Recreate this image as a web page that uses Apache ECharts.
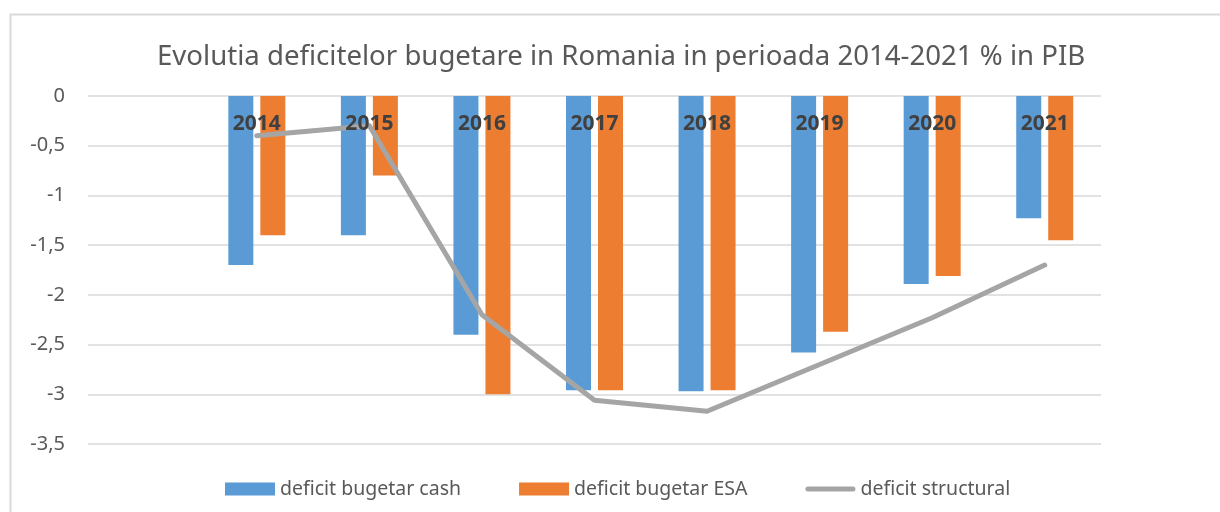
<!DOCTYPE html>
<html>
<head>
<meta charset="utf-8">
<script src="https://cdn.jsdelivr.net/npm/echarts@6/dist/echarts.min.js"></script>
<style>
  html, body { margin: 0; padding: 0; background: #fff; }
  #chart { width: 1220px; height: 512px; }
</style>
</head>
<body>
<div id="chart"></div>
<script>
// first slot is empty, like in the original Excel chart
const years = ['', '2014', '2015', '2016', '2017', '2018', '2019', '2020', '2021'];
const cashDeficit = ['-', -1.7, -1.4, -2.4, -2.96, -2.97, -2.58, -1.89, -1.23];
const esaDeficit = ['-', -1.4, -0.8, -3.0, -2.96, -2.96, -2.37, -1.81, -1.45];
const structuralDeficit = ['-', -0.4, -0.3, -2.2, -3.06, -3.17, -2.7, -2.23, -1.7];

const fontName = 'Noto Sans';
const textColor = '#595959';

let chart = echarts.init(document.getElementById('chart'), null, { renderer: 'canvas' });

let option = {
  backgroundColor: '#ffffff',
  animation: false,
  color: ['#5b9bd5', '#ed7d31', '#a5a5a5'],
  textStyle: { fontFamily: fontName },
  graphic: [{
    type: 'rect',
    shape: { x: 10.5, y: 14.5, width: 1230, height: 520 },
    style: { fill: 'none', stroke: '#d9d9d9', lineWidth: 2 },
    silent: true
  }],
  title: {
    text: 'Evolutia deficitelor bugetare in Romania in perioada 2014-2021 % in PIB',
    left: 152,
    top: 38,
    textStyle: {
      color: textColor,
      fontSize: 27.6,
      fontWeight: 'normal',
      fontFamily: fontName
    }
  },
  legend: {
    bottom: 8,
    left: 220,
    itemWidth: 50,
    itemHeight: 13,
    itemGap: 58,
    textStyle: { color: textColor, fontSize: 19.5, fontFamily: fontName },
    data: [
      { name: 'deficit bugetar cash', icon: 'rect' },
      { name: 'deficit bugetar ESA', icon: 'rect' },
      {
        name: 'deficit structural',
        icon: 'path://M2.5,0 H47.5 A2.5,2.5 0 0 1 47.5,5 H2.5 A2.5,2.5 0 0 1 2.5,0 Z',
        itemStyle: { color: '#a5a5a5' }
      }
    ]
  },
  grid: {
    left: 88,
    right: 119,
    top: 96,
    bottom: 68,
    containLabel: false
  },
  xAxis: {
    type: 'category',
    position: 'top',
    data: years,
    z: 10,
    axisLine: { show: false },
    axisTick: { show: false },
    splitLine: { show: false },
    axisLabel: {
      inside: true,
      margin: 18,
      color: '#404040',
      fontSize: 21,
      fontWeight: 'bold',
      fontFamily: fontName
    }
  },
  yAxis: {
    type: 'value',
    min: -3.5,
    max: 0,
    interval: 0.5,
    axisLine: { show: false },
    axisTick: { show: false },
    splitLine: { lineStyle: { color: '#d9d9d9', width: 1.5 } },
    axisLabel: {
      color: textColor,
      fontSize: 20,
      margin: 23,
      fontFamily: fontName,
      formatter: function (v) {
        return String(v).replace('.', ',');
      }
    }
  },
  series: [{
    name: 'deficit bugetar cash',
    type: 'bar',
    barWidth: 25,
    barGap: '28%',
    data: cashDeficit
  }, {
    name: 'deficit bugetar ESA',
    type: 'bar',
    barWidth: 25,
    barGap: '28%',
    data: esaDeficit
  }, {
    name: 'deficit structural',
    type: 'line',
    symbol: 'none',
    z: 5,
    lineStyle: { width: 5, color: '#a5a5a5', cap: 'round', join: 'round' },
    data: structuralDeficit
  }]
};

chart.setOption(option);
</script>
</body>
</html>
